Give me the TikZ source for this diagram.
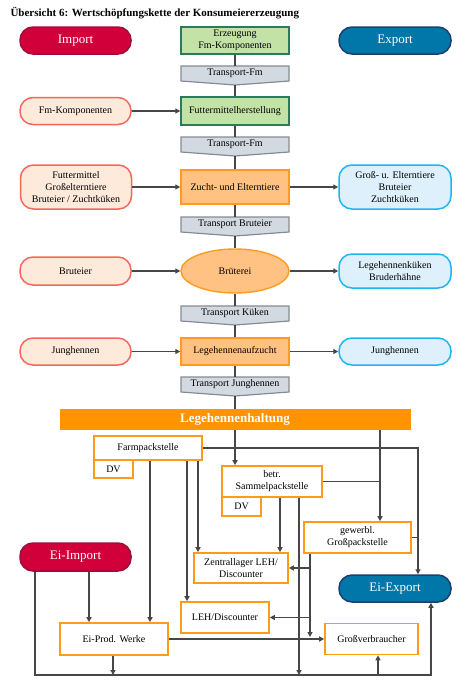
\documentclass[tikz,border=0pt]{standalone}
\usepackage{fontspec}
\setmainfont{Liberation Serif}
\usetikzlibrary{arrows.meta,shapes.geometric}

\definecolor{impfill}{HTML}{D1003A}
\definecolor{impdraw}{HTML}{9E0E3A}
\definecolor{expfill}{HTML}{0076A9}
\definecolor{expdraw}{HTML}{1B3F6E}
\definecolor{inpfill}{HTML}{FDEADB}
\definecolor{inpdraw}{HTML}{F4675A}
\definecolor{outfill}{HTML}{DDF0FC}
\definecolor{outdraw}{HTML}{1EB5F2}
\definecolor{grnfill}{HTML}{C3E3A6}
\definecolor{grndraw}{HTML}{2B7B58}
\definecolor{orgfill}{HTML}{FFC283}
\definecolor{orgdraw}{HTML}{FF9A22}
\definecolor{barfill}{HTML}{FF9300}
\definecolor{trnfill}{HTML}{D3D9E0}
\definecolor{trndraw}{HTML}{858B94}
\definecolor{boxdraw}{HTML}{FF9A1A}
\definecolor{linecol}{HTML}{474747}

% chevron-shaped transport step: name, top edge, label
\newcommand\transportbox[3]{%
  \filldraw[fill=trnfill,draw=trndraw,line width=1.2pt,line join=miter]
    (181,#2) -- (289,#2) -- (289,{#2+15}) -- (235,{#2+19}) -- (181,{#2+15}) -- cycle;
  \node[txt,minimum width=108pt,minimum height=15pt,inner sep=0pt] (#1) at (235,{#2+7.5}) {#3};
  \coordinate (#1-tip) at (235,{#2+19});
}

\begin{document}
\begin{tikzpicture}[x=1pt,y=-1pt,
  txt/.style={font=\fontsize{10}{12}\selectfont,align=center,inner sep=1pt,text=black},
  stadium/.style={txt,rounded corners=13pt,line width=1.5pt,minimum width=111pt,minimum height=27pt},
  bigstadium/.style={stadium,text=white,font=\fontsize{13}{15}\selectfont},
  impbox/.style={bigstadium,fill=impfill,draw=impdraw},
  expbox/.style={bigstadium,fill=expfill,draw=expdraw},
  inbox/.style={stadium,fill=inpfill,draw=inpdraw},
  outbox/.style={stadium,fill=outfill,draw=outdraw},
  grnbox/.style={txt,fill=grnfill,draw=grndraw,line width=1.4pt,minimum width=108pt,minimum height=27pt},
  orgbox/.style={txt,fill=orgfill,draw=orgdraw,line width=1.4pt,minimum width=108pt,minimum height=27pt},
  wbox/.style={txt,fill=white,draw=boxdraw,line width=1.6pt},
  line/.style={draw=linecol,line width=1.5pt},
  arr/.style={line,-{Triangle[length=5pt,width=5pt]}}]

\useasboundingbox (0,0) rectangle (474,694);

\node[anchor=west,font=\bfseries\fontsize{11}{13}\selectfont] (title) at (7,13)
  {Übersicht 6: Wertschöpfungskette der Konsumeiererzeugung};

% ---- upper chain ----
\node[impbox] (imp) at (75.5,40.5) {Import};
\node[grnbox] (erz) at (235,40.5) {Erzeugung\\Fm-Komponenten};
\node[expbox,minimum width=112pt] (exp) at (395,40.5) {Export};

\transportbox{t1}{66}{Transport-Fm}

\node[inbox] (fmk) at (75.5,111) {Fm-Komponenten};
\node[grnbox,minimum height=28pt] (fmh) at (235,111) {Futtermittelherstellung};

\transportbox{t2}{137}{Transport-Fm}

\node[inbox,minimum height=44pt] (zin) at (76,187) {Futtermittel\\Großelterntiere\\Bruteier / Zuchtküken};
\node[orgbox,minimum height=34pt] (zucht) at (235,187) {Zucht- und Elterntiere};
\node[outbox,minimum width=112pt,minimum height=44pt] (zout) at (395,187) {Groß- u. Elterntiere\\Bruteier\\Zuchtküken};

\transportbox{t3}{217}{Transport Bruteier}

\node[inbox,minimum height=28pt] (bin) at (75.5,271) {Bruteier};
\node[txt,ellipse,fill=orgfill,draw=orgdraw,line width=1.4pt,minimum width=108pt,minimum height=44pt,inner sep=0pt] (brut) at (235,271) {Brüterei};
\node[outbox,minimum width=112pt,minimum height=34pt] (bout) at (395,271) {Legehennenküken\\Bruderhähne};

\transportbox{t4}{306}{Transport Küken}

\node[inbox] (jin) at (75.5,351.5) {Junghennen};
\node[orgbox] (auf) at (235,351.5) {Legehennenaufzucht};
\node[outbox,minimum width=112pt] (jout) at (395,351.5) {Junghennen};

\transportbox{t5}{377}{Transport Junghennen}

\node[fill=barfill,minimum width=351pt,minimum height=21pt,inner sep=0pt,text=white,
      font=\bfseries\fontsize{13}{15}\selectfont] (bar) at (235,419.5) {Legehennenhaltung};

\draw[line] (erz.south) -- (t1.north);
\draw[line] (t1-tip) -- (fmh.north);
\draw[line] (fmh.south) -- (t2.north);
\draw[line] (t2-tip) -- (zucht.north);
\draw[line] (zucht.south) -- (t3.north);
\draw[line] (t3-tip) -- (brut.north);
\draw[line] (brut.south) -- (t4.north);
\draw[line] (t4-tip) -- (auf.north);
\draw[line] (auf.south) -- (t5.north);
\draw[line] (t5-tip) -- (bar.north);

\draw[arr] (fmk.east) -- (fmh.west);
\draw[arr] (zin.east) -- (zucht.west);
\draw[arr] (zucht.east) -- (zout.west);
\draw[arr] (bin.east) -- (brut.west);
\draw[arr] (brut.east) -- (bout.west);
\draw[arr] (jin.east) -- (auf.west);
\draw[arr] (auf.east) -- (jout.west);

% ---- distribution of eggs ----
\node[wbox,minimum width=108pt,minimum height=24pt] (farm) at (148,448) {Farmpackstelle};
\node[wbox,minimum width=39pt,minimum height=18pt] (dv1) at (113.5,469) {DV};
\node[wbox,minimum width=100pt,minimum height=31pt] (sam) at (272,481.5) {betr.\\Sammelpackstelle};
\node[wbox,minimum width=39pt,minimum height=19pt] (dv2) at (241.5,506.5) {DV};
\node[wbox,minimum width=107pt,minimum height=31pt] (gew) at (357.5,537.5) {gewerbl.\\Großpackstelle};
\node[wbox,minimum width=94pt,minimum height=30pt] (zen) at (241,568) {Zentrallager LEH/\\Discounter};
\node[wbox,minimum width=88pt,minimum height=31pt] (leh) at (225,617.5) {LEH/Discounter};
\node[wbox,minimum width=108pt,minimum height=32pt] (prod) at (114,639) {Ei-Prod. Werke};
\node[wbox,minimum width=93pt,minimum height=31pt] (gv) at (371.5,639) {Großverbraucher};
\node[impbox,minimum height=28pt] (eiimp) at (75.5,557) {Ei-Import};
\node[expbox,minimum width=112pt] (eiexp) at (395,588.5) {Ei-Export};

% line columns and the collecting line at the bottom
\coordinate (cA) at (35,0);
\coordinate (cB) at (89,0);
\coordinate (cC) at (113,0);
\coordinate (cD) at (150,0);
\coordinate (cE) at (187,0);
\coordinate (cF) at (198,0);
\coordinate (cH) at (280,0);
\coordinate (cI) at (299,0);
\coordinate (cJ) at (310,0);
\coordinate (cK) at (378,0);
\coordinate (cL) at (380,0);
\coordinate (cM) at (418,0);
\coordinate (cN) at (431,0);
\coordinate (bus) at (0,675);
\coordinate (gewend) at (310,637);

\draw[arr] (bar.south) -- (bar.south |- sam.north);
\draw[arr] (bar.south -| cL) -- (gew.north -| cL);
\draw[line] (sam.east) -- (sam.east -| cL);
\draw[arr] (farm.east) -| (eiexp.north -| cM);
\draw[line] (gew.east) -- (gew.east -| cM);

\draw[arr] (farm.south -| cD) -- (prod.north -| cD);
\draw[arr] (farm.south -| cE) -- (leh.north -| cE);
\draw[arr] (farm.south -| cF) -- (zen.north -| cF);
\draw[arr] (sam.south -| cH) -- (zen.north -| cH);
\draw[arr] (sam.south -| cI) -- (bus -| cI);
\draw[arr] (gew.south -| cJ) -- (gewend);
\draw[arr] (zen.east -| cJ) -- (zen.east);
\draw[arr] (leh.east -| cJ) -- (leh.east);
\draw[arr] (prod.east) -- (gv.west);

\draw[arr] (eiimp.south -| cB) -- (prod.north -| cB);
\draw[arr] (eiimp.south -| cA) -- (bus -| cA) -- (bus -| cN) -- (eiexp.south -| cN);
\draw[arr] (prod.south -| cC) -- (bus -| cC);
\draw[arr] (bus -| cK) -- (gv.south -| cK);

\end{tikzpicture}
\end{document}
